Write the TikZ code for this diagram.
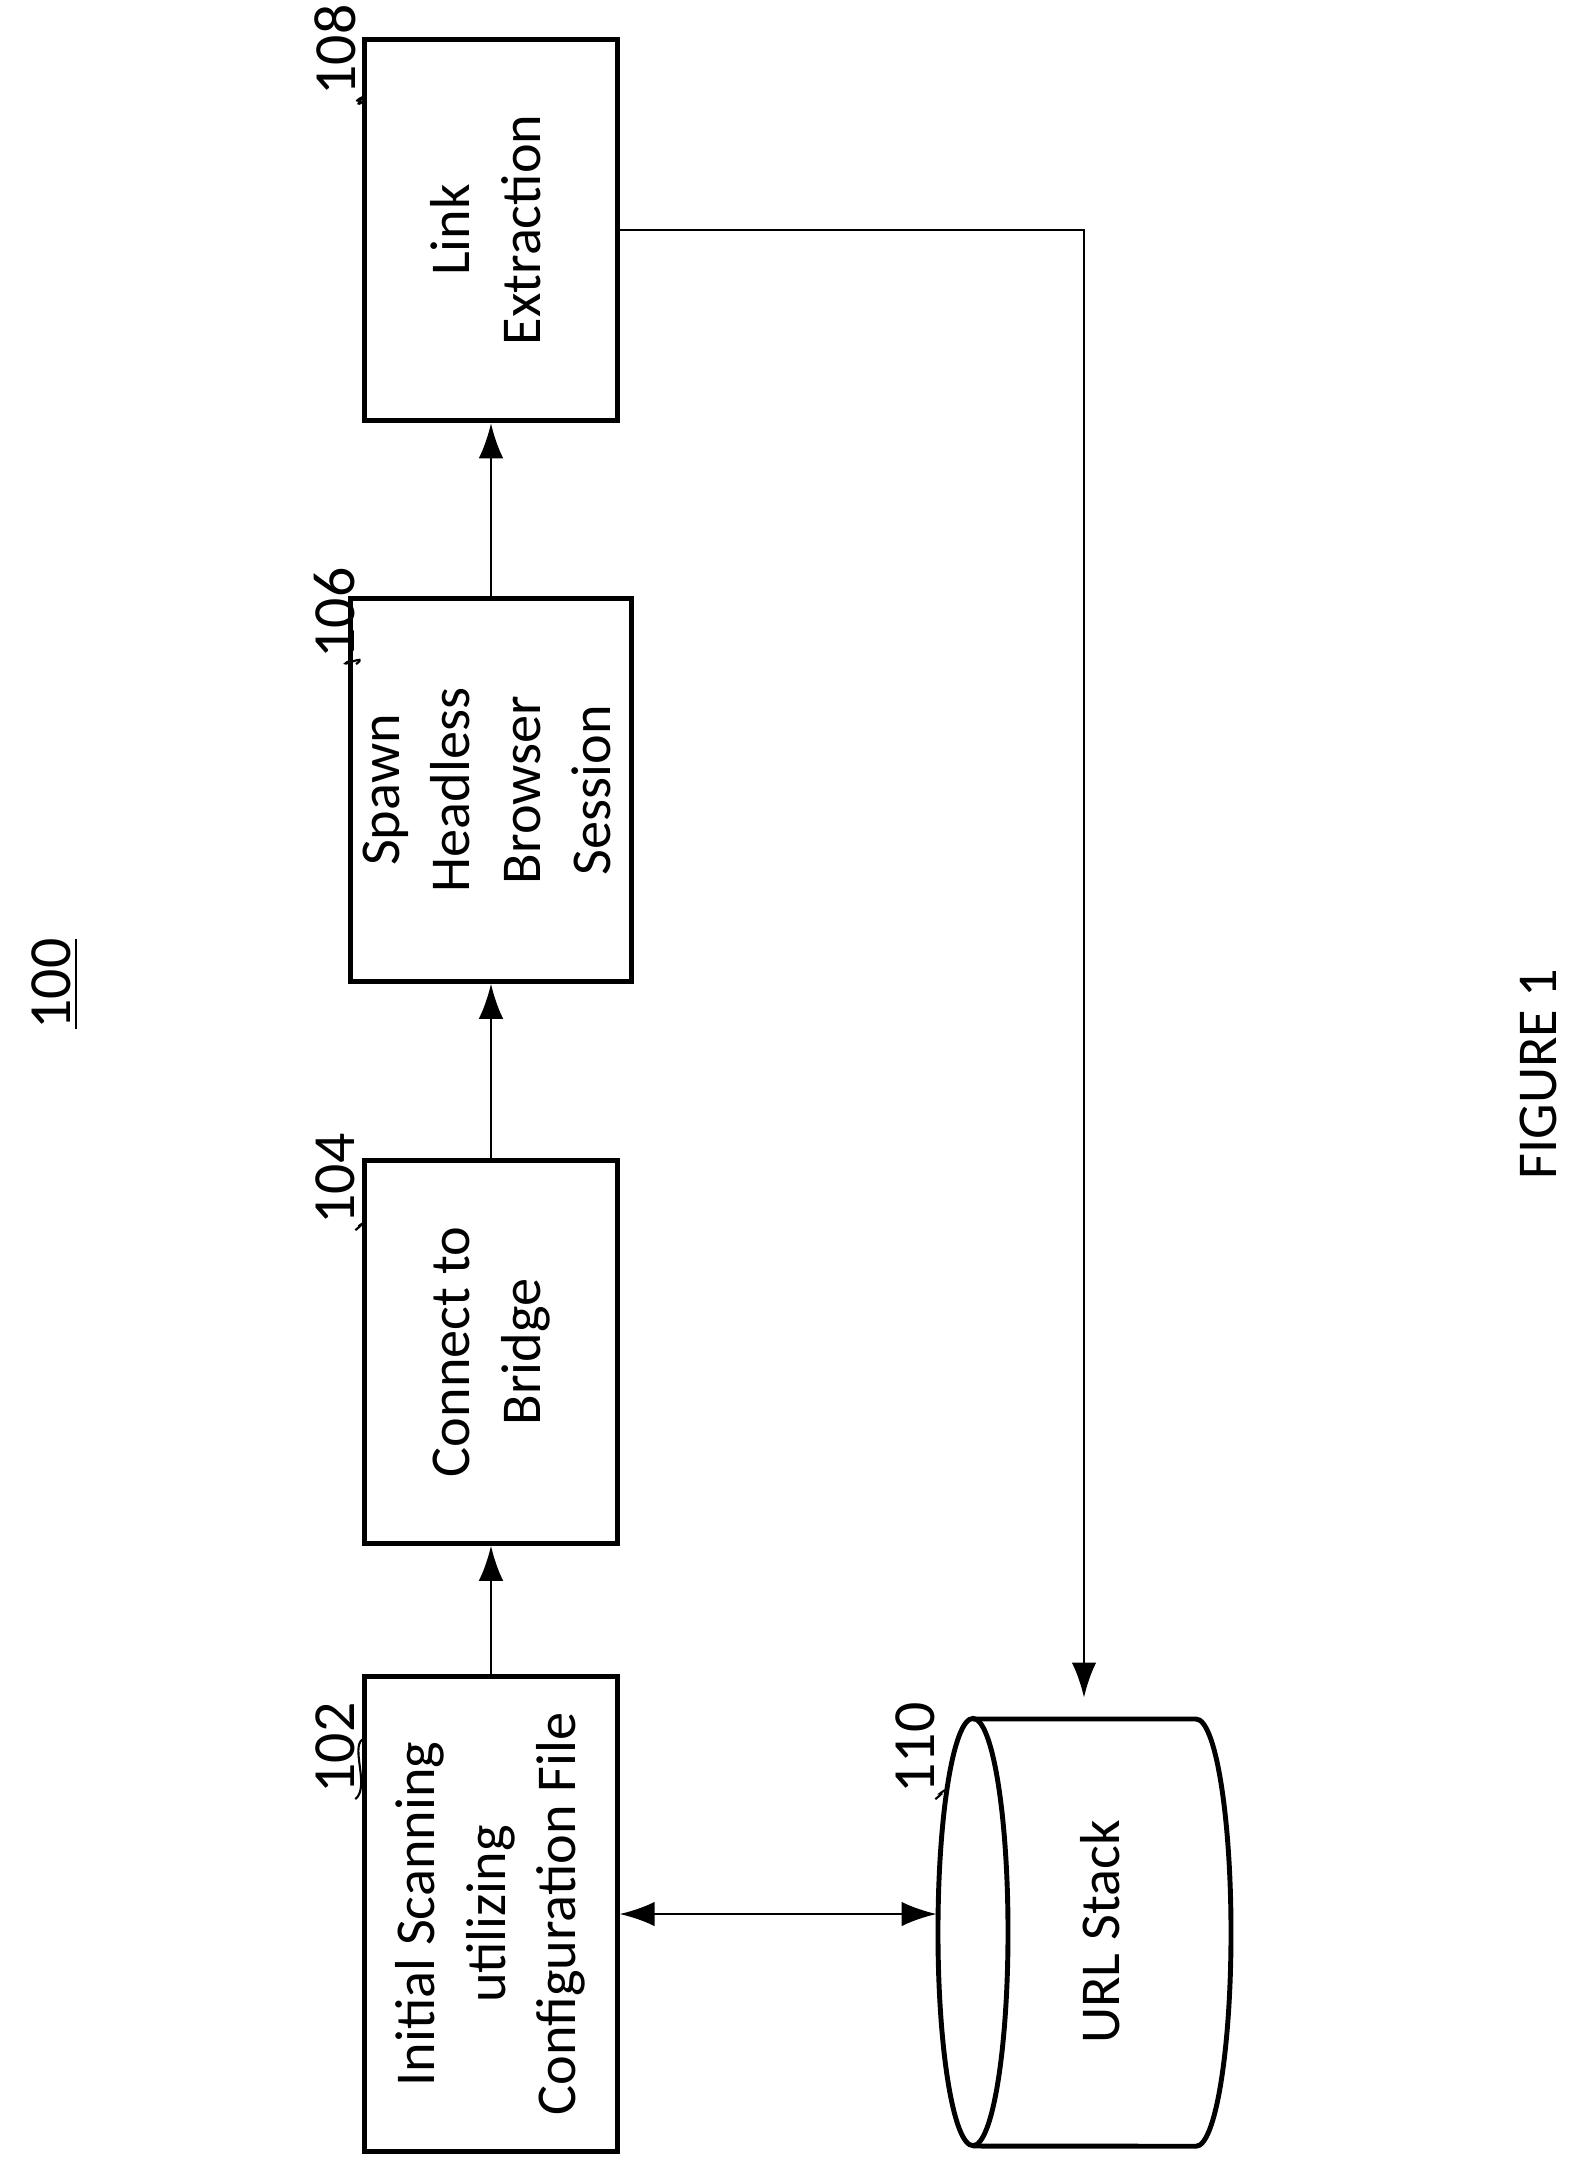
\documentclass[tikz,border=0pt]{standalone}
\usepackage{fontspec}
\setmainfont{Carlito}
\usetikzlibrary{arrows.meta}

\tikzset{
  box/.style={draw,line width=1.4pt,minimum width=2.52cm,inner sep=0pt,font=\fontsize{16}{20}\selectfont},
  num/.style={font=\fontsize{17}{20}\selectfont,inner sep=0pt},
  link/.style={line width=0.8pt,-{Latex[length=10pt,width=7pt]}},
}

\begin{document}
\begin{tikzpicture}[x=0.01cm,y=-0.01cm]
  \useasboundingbox (0,0) rectangle (1568,2165);
  % the four steps
  \node[box,minimum height=3.81cm] (b108) at (491,230) {\rotatebox{90}{\begin{tabular}{c}Link\\Extraction\end{tabular}}};
  \node[box,minimum height=3.82cm] (b106) at (491,790) {\rotatebox{90}{\begin{tabular}{c}Spawn\\Headless\\Browser\\Session\end{tabular}}};
  \node[box,minimum height=3.82cm] (b104) at (491,1352) {\rotatebox{90}{\begin{tabular}{c}Connect to\\Bridge\end{tabular}}};
  \node[box,minimum height=4.74cm] (b102) at (491,1914) {\rotatebox{90}{\begin{tabular}{c}Initial Scanning\\utilizing\\Configuration File\end{tabular}}};
  % url stack
  \node[minimum width=2.93cm,minimum height=4.27cm,inner sep=0pt] (stack) at (1084,1932) {};
  \draw[line width=1.4pt] (973,1932) ellipse [x radius=0.35cm,y radius=2.135cm];
  \draw[line width=1.4pt] (973,1719) -- (1196,1719) arc[start angle=90,end angle=-90,x radius=0.35cm,y radius=2.135cm] -- (973,2146);
  \node[font=\fontsize{16}{20}\selectfont] (stk) at (1100,1932) {\rotatebox{90}{URL Stack}};
  % reference numbers
  \node[num] (n108) at (335,50) {\rotatebox{90}{108}};
  \node[num] (n106) at (335,613) {\rotatebox{90}{106}};
  \node[num] (n104) at (335,1179) {\rotatebox{90}{104}};
  \node[num] (n102) at (335,1748) {\rotatebox{90}{102}};
  \node[num] (n110) at (915,1748) {\rotatebox{90}{110}};
  \foreach \n/\b in {108/b108,106/b106,104/b104,102/b102} {
    \draw[line width=0.6pt] (n\n.south east) ++(0,5) .. controls +(15,-12) and +(-12,8) .. ([yshift=-0.65cm]\b.north west);
  }
  \draw[line width=0.6pt] (n110.south east) ++(0,5) .. controls +(15,-12) and +(-12,8) .. (945,1790);
  \node[font=\fontsize{17}{20}\selectfont] (fig) at (55,984) {\rotatebox{90}{\underline{100}}};
  \node[font=\fontsize{16}{20}\selectfont] (cap) at (1538,1074) {\rotatebox{90}{FIGURE 1}};
  % connectors
  \draw[link] (b102) -- (b104);
  \draw[link] (b104) -- (b106);
  \draw[link] (b106) -- (b108);
  \draw[link] (b108.east) -| ([yshift=0.2cm]stack.north);
  \draw[line width=0.8pt,{Latex[length=10pt,width=7pt]}-{Latex[length=10pt,width=7pt]}] (b102.east) -- (b102.east -| stack.west);
\end{tikzpicture}
\end{document}
